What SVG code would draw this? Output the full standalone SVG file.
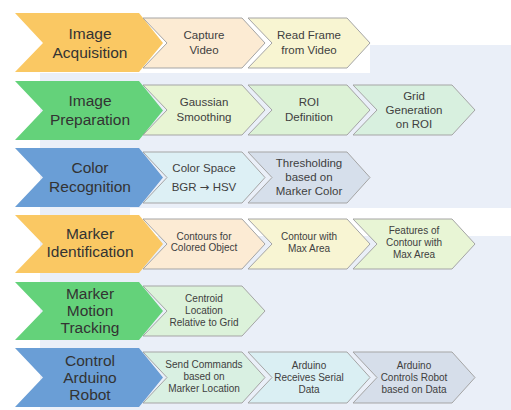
<svg xmlns="http://www.w3.org/2000/svg" width="511" height="410" viewBox="0 0 511 410">
<style>
.big{font-family:"Liberation Sans",Arial,sans-serif;font-size:15.5px;fill:#333;text-anchor:middle}
.sub{font-family:"Liberation Sans",Arial,sans-serif;font-size:11.5px;fill:#404040;text-anchor:middle}
.sm{font-family:"Liberation Sans",Arial,sans-serif;font-size:10px;fill:#404040;text-anchor:middle}
.arr{font-family:"DejaVu Sans",sans-serif}
.y{fill:#FAC863}.g{fill:#64D27A}.b{fill:#6A9ED6}
.s{stroke:#A5A5A5;stroke-width:1}
</style>
<rect width="511" height="410" fill="#ffffff"/>
<g id="background">
<rect x="40" y="73" width="471" height="337" fill="#EAEFF8"/>
<rect x="370" y="45" width="141" height="28" fill="#EAEFF8"/>
<rect x="130" y="208" width="381" height="28" fill="#ffffff"/>
</g>
<g id="connectors"></g>

<!-- Row 1 -->
<g id="row1-main"><polygon class="y" points="15,13 139,13 163,43 139,72 15,72 43,43"/>
<text class="big" x="90" y="39">Image</text><text class="big" x="90" y="58">Acquisition</text></g>
<g id="row1-s1"><polygon class="s" fill="#FCEBD3" points="143,18 242,18 265,43 242,68 143,68 167,43"/>
<text class="sub" x="204" y="39">Capture</text><text class="sub" x="204" y="54">Video</text></g>
<g id="row1-s2"><polygon class="s" fill="#F8F5D2" points="248,18 347,18 370,43 347,68 248,68 272,43"/>
<text class="sub" x="309" y="39">Read Frame</text><text class="sub" x="309" y="54">from Video</text></g>

<!-- Row 2 -->
<g id="row2-main"><polygon class="g" points="15,81 139,81 163,110.5 139,140 15,140 43,110.5"/>
<text class="big" x="90" y="106">Image</text><text class="big" x="90" y="125">Preparation</text></g>
<g id="row2-s1"><polygon class="s" fill="#E8F5D4" points="143,85 242,85 265,110 242,135 143,135 167,110"/>
<text class="sub" x="204" y="106">Gaussian</text><text class="sub" x="204" y="121">Smoothing</text></g>
<g id="row2-s2"><polygon class="s" fill="#DCF2D6" points="248,85 347,85 370,110 347,135 248,135 272,110"/>
<text class="sub" x="309" y="106">ROI</text><text class="sub" x="309" y="121">Definition</text></g>
<g id="row2-s3"><polygon class="s" fill="#D8F0DF" points="353,85 452,85 475,110 452,135 353,135 377,110"/>
<text class="sub" x="414" y="100">Grid</text><text class="sub" x="414" y="114">Generation</text><text class="sub" x="414" y="128">on ROI</text></g>

<!-- Row 3 -->
<g id="row3-main"><polygon class="b" points="15,148 139,148 163,177.5 139,207 15,207 43,177.5"/>
<text class="big" x="90" y="173">Color</text><text class="big" x="90" y="192">Recognition</text></g>
<g id="row3-s1"><polygon class="s" fill="#DDF0F5" points="143,152 242,152 265,177.5 242,203 143,203 167,177.5"/>
<text class="sub" x="204" y="172">Color Space</text><text class="sub" x="204" y="191">BGR <tspan class="arr">→</tspan> HSV</text></g>
<g id="row3-s2"><polygon class="s" fill="#D6DFEB" points="248,152 347,152 370,177.5 347,203 248,203 272,177.5"/>
<text class="sub" x="309" y="167">Thresholding</text><text class="sub" x="309" y="181">based on</text><text class="sub" x="309" y="195">Marker Color</text></g>

<!-- Row 4 -->
<g id="row4-main"><polygon class="y" points="15,215 139,215 163,244 139,273 15,273 43,244"/>
<text class="big" x="90" y="239">Marker</text><text class="big" x="90" y="257">Identification</text></g>
<g id="row4-s1"><polygon class="s" fill="#FCEBD4" points="143,219 242,219 265,244 242,269 143,269 167,244"/>
<text class="sm" x="204" y="240">Contours for</text><text class="sm" x="204" y="251">Colored Object</text></g>
<g id="row4-s2"><polygon class="s" fill="#F8F5D3" points="248,219 347,219 370,244 347,269 248,269 272,244"/>
<text class="sm" x="309" y="240">Contour with</text><text class="sm" x="309" y="252">Max Area</text></g>
<g id="row4-s3"><polygon class="s" fill="#E8F5D5" points="353,219 452,219 475,244 452,269 353,269 377,244"/>
<text class="sm" x="414" y="234">Features of</text><text class="sm" x="414" y="246">Contour with</text><text class="sm" x="414" y="258">Max Area</text></g>

<!-- Row 5 -->
<g id="row5-main"><polygon class="g" points="15,282 139,282 163,311 139,340 15,340 43,311"/>
<text class="big" x="90" y="299">Marker</text><text class="big" x="90" y="316">Motion</text><text class="big" x="90" y="333">Tracking</text></g>
<g id="row5-s1"><polygon class="s" fill="#DCF2DA" points="143,286 242,286 265,311 242,336 143,336 167,311"/>
<text class="sm" x="204" y="302">Centroid</text><text class="sm" x="204" y="314">Location</text><text class="sm" x="204" y="326">Relative to Grid</text></g>

<!-- Row 6 -->
<g id="row6-main"><polygon class="b" points="15,348 139,348 163,377.5 139,407 15,407 43,377.5"/>
<text class="big" x="90" y="366">Control</text><text class="big" x="90" y="383">Arduino</text><text class="big" x="90" y="400">Robot</text></g>
<g id="row6-s1"><polygon class="s" fill="#D9F0E2" points="143,352 242,352 265,377.5 242,403 143,403 167,377.5"/>
<text class="sm" x="204" y="368">Send Commands</text><text class="sm" x="204" y="380">based on</text><text class="sm" x="204" y="392">Marker Location</text></g>
<g id="row6-s2"><polygon class="s" fill="#DAEFF3" points="248,352 347,352 370,377.5 347,403 248,403 272,377.5"/>
<text class="sm" x="309" y="369">Arduino</text><text class="sm" x="309" y="381">Receives Serial</text><text class="sm" x="309" y="393">Data</text></g>
<g id="row6-s3"><polygon class="s" fill="#D6DEEA" points="353,352 452,352 475,377.5 452,403 353,403 377,377.5"/>
<text class="sm" x="414" y="369">Arduino</text><text class="sm" x="414" y="381">Controls Robot</text><text class="sm" x="414" y="393">based on Data</text></g>
</svg>
